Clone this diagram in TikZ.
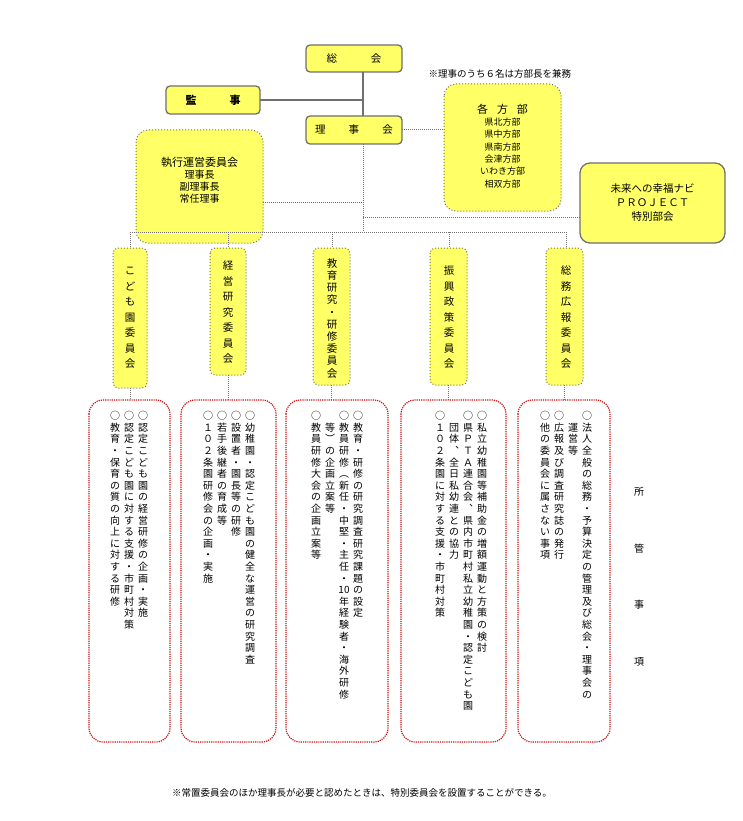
\documentclass[tikz,border=0pt]{standalone}
\usepackage{fontspec}
\setmainfont{Noto Sans CJK JP}
\usetikzlibrary{positioning}
\newdimen\vtp
\def\vtendmark{\vtend}
\def\vtA#1{\def\vttmp{#1}\ifx\vttmp\vtendmark\else\hbox to 12pt{\vrule height .82\vtp depth .18\vtp width 0pt\hss#1\hss}\expandafter\vtA\fi}
\newcommand\vtcol[2][11.6pt]{\vtp=#1\relax\vbox{\offinterlineskip\vtA#2\vtend}}
\definecolor{yel}{HTML}{FFFF66}
\definecolor{bord}{HTML}{707070}
\definecolor{dred}{HTML}{D01010}
\tikzset{
 solidbox/.style={draw=bord,line width=1.3pt,fill=yel,rounded corners=4pt},
 dotbox/.style={draw=bord,line width=1pt,dotted,fill=yel,rounded corners=12pt},
 redbox/.style={draw=dred,line width=1.2pt,densely dotted,rounded corners=14pt},
 conn/.style={draw=bord,line width=1.2pt},
 dconn/.style={draw=bord,line width=1pt,densely dotted},
 col/.style={anchor=north,inner sep=0pt,font=\fontsize{10}{12}\selectfont},
 ccol/.style={anchor=north,inner sep=0pt,font=\fontsize{10.5}{12}\selectfont},
}
\begin{document}
\begin{tikzpicture}[x=1pt,y=-1pt]
\useasboundingbox (0,0) rectangle (743,821);
% top boxes
\draw[solidbox] (306,45) rectangle (402,72);
\node (sokai) at (354,58.5) {\fontsize{10.5}{12}\selectfont 総\hspace{3.2em}会};
\draw[solidbox] (166,86) rectangle (260,114);
\node (kanji) at (213,100) {\fontsize{11}{12}\selectfont\bfseries 監\hspace{3em}事};
\draw[solidbox] (306,116) rectangle (402,144);
\node (rijikai) at (354,130) {\fontsize{10.5}{12}\selectfont 理\hspace{2.2em}事\hspace{2.2em}会};
\node[anchor=west,font=\fontsize{9.5}{11}\selectfont] (note) at (425,74) {※理事のうち６名は方部長を兼務};
% connectors
\coordinate (j1) at (363,100);
\draw[conn] (363,72) -- (363,116);
\draw[conn] (260,100) -- (j1);
% hobu
\draw[dotbox] (444,84) rectangle (561,211);
\node[align=center,font=\fontsize{9}{12.3}\selectfont] (hobu) at (502.5,146) {{\fontsize{11}{13}\selectfont 各\hspace{0.8em}方\hspace{0.8em}部}\\県北方部\\県中方部\\県南方部\\会津方部\\いわき方部\\相双方部};
\draw[dconn] (402,130) -- (444,130);
% shikko
\draw[dotbox] (136,130) rectangle (263,243);
\node[align=center,font=\fontsize{10}{12}\selectfont] (shikko) at (199.5,180) {{\fontsize{11}{13}\selectfont 執行運営委員会}\\理事長\\副理事長\\常任理事};
% mirai
\draw[solidbox,rounded corners=10pt] (580,163) rectangle (725,243);
\node[align=center,font=\fontsize{10.5}{14}\selectfont] (mirai) at (652.5,203) {未来への幸福ナビ\\ＰＲＯＪＥＣＴ\\特別部会};
% dotted tree
\draw[dconn] (363,144) -- (363,232);
\draw[dconn] (263,202) -- (363,202);
\draw[dconn] (363,217) -- (580,217);
\draw[dconn] (130,232) -- (566,232);
\foreach \x/\yy in {130/248,228/248,332/248,449/248,566/248}{
 \draw[dconn] (\x,232) -- (\x,\yy);
}
% committees
\foreach \xa/\xb/\yb in {113/147/388,210/246/375,313/350/385,430/467/385,546/583/385}{
 \draw[dotbox,rounded corners=5pt] (\xa,248) rectangle (\xb,\yb);
 \draw[dconn] ({(\xa+\xb)/2},\yb) -- ({(\xa+\xb)/2},400);
}
\node[ccol] (c1) at (130,262) {\vtcol[15.5pt]{こども園委員会}};
\node[ccol] (c2) at (228,257) {\vtcol[15.5pt]{経営研究委員会}};
\node[ccol] (c3) at (332,257) {\vtcol[12.2pt]{教育研究・研修委員会}};
\node[ccol] (c4) at (449,262) {\vtcol[15.5pt]{振興政策委員会}};
\node[ccol] (c5) at (566,262) {\vtcol[15.5pt]{総務広報委員会}};
% content boxes
\foreach \xa/\xb in {89/170,181/276,286/388,401/506,518/610}{
 \draw[redbox] (\xa,400) rectangle (\xb,742);
}
\node[col] (t11) at (143,410) {\vtcol{○認定こども園の経営研修の企画・実施}};
\node[col] (t12) at (129,410) {\vtcol{○認定こども園に対する支援・市町村対策}};
\node[col] (t13) at (115,410) {\vtcol{○教育・保育の質の向上に対する研修}};
\node[col] (t21) at (250,410) {\vtcol{○幼稚園・認定こども園の健全な運営の研究調査}};
\node[col] (t22) at (236,410) {\vtcol{○設置者・園長等の研修}};
\node[col] (t23) at (222,410) {\vtcol{○若手後継者の育成等}};
\node[col] (t24) at (208,410) {\vtcol{○１０２条園研修会の企画・実施}};
\node[col] (t31) at (358,410) {\vtcol{○教育・研修の研究調査研究課題の設定}};
\node[col] (t32) at (344,410) {\vtcol{○教員研修︵新任・中堅・主任・{10}年経験者・海外研修}};
\node[col] (t33) at (330,410) {\vtcol{　等︶の企画立案等}};
\node[col] (t34) at (316,410) {\vtcol{○教員研修大会の企画立案等}};
\node[col] (t41) at (482,410) {\vtcol{○私立幼稚園等補助金の増額運動と方策の検討}};
\node[col] (t42) at (468,410) {\vtcol{○県ＰＴＡ連合会︑県内市町村私立幼稚園・認定こども園}};
\node[col] (t43) at (454,410) {\vtcol{　団体︑全日私幼連との協力}};
\node[col] (t44) at (440,410) {\vtcol{○１０２条園に対する支援・市町村対策}};
\node[col] (t51) at (587,410) {\vtcol{○法人全般の総務・予算決定の管理及び総会・理事会の}};
\node[col] (t52) at (573,410) {\vtcol{　運営等}};
\node[col] (t53) at (559,410) {\vtcol{○広報及び調査研究誌の発行}};
\node[col] (t54) at (545,410) {\vtcol{○他の委員会に属さない事項}};
% shokan jiko
\foreach \ch/\y [count=\i] in {所/492,管/549,事/605,項/662}{
 \node[font=\fontsize{10}{12}\selectfont] (sk\i) at (639,\y) {\ch};
}
\node[font=\fontsize{9.5}{11}\selectfont] (foot) at (362,793) {※常置委員会のほか理事長が必要と認めたときは、特別委員会を設置することができる。};
\end{tikzpicture}
\end{document}
